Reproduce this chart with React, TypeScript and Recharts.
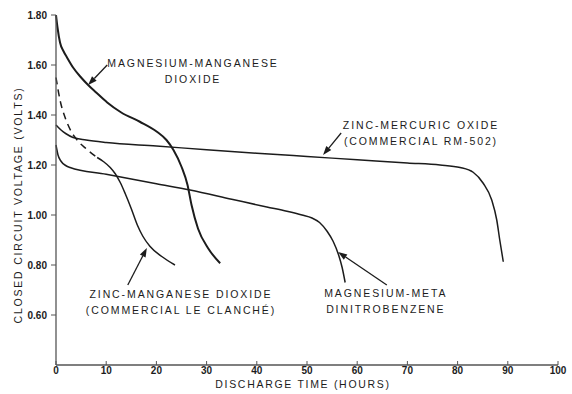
import React from 'react'
import { LineChart, Line, XAxis, YAxis, ReferenceLine, ReferenceDot } from 'recharts'

// discharge curves, hours vs closed circuit volts
const mgMno2 = [
  { h: 0, v: 1.8 }, { h: 0.3, v: 1.75 }, { h: 0.8, v: 1.69 }, { h: 1.5, v: 1.655 },
  { h: 2.2, v: 1.63 }, { h: 3.4, v: 1.59 }, { h: 5, v: 1.55 }, { h: 6.4, v: 1.52 },
  { h: 8, v: 1.49 }, { h: 10.2, v: 1.45 }, { h: 13, v: 1.41 }, { h: 16.7, v: 1.373 },
  { h: 20.1, v: 1.333 }, { h: 22, v: 1.3 }, { h: 23.4, v: 1.26 }, { h: 25, v: 1.193 },
  { h: 26.2, v: 1.12 }, { h: 27, v: 1.04 }, { h: 28.3, v: 0.945 }, { h: 30.3, v: 0.867 },
  { h: 32.7, v: 0.807 },
]

const znHgo = [
  { h: 0, v: 1.36 }, { h: 1, v: 1.34 }, { h: 2, v: 1.325 }, { h: 3.4, v: 1.31 },
  { h: 6, v: 1.3 }, { h: 10, v: 1.29 }, { h: 20, v: 1.276 }, { h: 30, v: 1.261 },
  { h: 40, v: 1.247 }, { h: 50, v: 1.234 }, { h: 60, v: 1.221 }, { h: 70, v: 1.208 },
  { h: 76.5, v: 1.2 }, { h: 80.5, v: 1.19 }, { h: 83.1, v: 1.171 }, { h: 85.1, v: 1.127 },
  { h: 86.8, v: 1.06 }, { h: 87.8, v: 0.98 }, { h: 88.4, v: 0.9 }, { h: 89.1, v: 0.813 },
]

const mgDinitro = [
  { h: 0, v: 1.28 }, { h: 0.4, v: 1.24 }, { h: 1, v: 1.215 }, { h: 2, v: 1.197 },
  { h: 2.8, v: 1.19 }, { h: 10, v: 1.163 }, { h: 20, v: 1.125 }, { h: 26.7, v: 1.1 },
  { h: 35, v: 1.063 }, { h: 42, v: 1.032 }, { h: 46, v: 1.015 }, { h: 49, v: 1.0 },
  { h: 51, v: 0.988 }, { h: 52.5, v: 0.97 }, { h: 54, v: 0.935 }, { h: 55.2, v: 0.895 },
  { h: 56.3, v: 0.84 }, { h: 57, v: 0.79 }, { h: 57.6, v: 0.73 },
]

// leclanche cell: dashed start, solid after ~8 h
const znMno2Early = [
  { h: 0, v: 1.55 }, { h: 0.8, v: 1.46 }, { h: 2, v: 1.38 }, { h: 3, v: 1.335 },
  { h: 4.2, v: 1.3 }, { h: 6, v: 1.265 }, { h: 8.2, v: 1.23 },
]

const znMno2 = [
  { h: 8.2, v: 1.23 }, { h: 9.5, v: 1.213 }, { h: 10.8, v: 1.19 }, { h: 11.8, v: 1.165 },
  { h: 12.8, v: 1.13 }, { h: 13.8, v: 1.085 }, { h: 15, v: 1.025 }, { h: 16.2, v: 0.96 },
  { h: 17.3, v: 0.915 }, { h: 18.7, v: 0.875 }, { h: 21, v: 0.835 }, { h: 23.7, v: 0.8 },
]

const xTicks = [0, 10, 20, 30, 40, 50, 60, 70, 80, 90, 100]
const yTicks = [0.6, 0.8, 1.0, 1.2, 1.4, 1.6, 1.8]

// callouts: text anchor (h, v) and arrow tail -> head
const callouts = [
  { lines: ['MAGNESIUM-MANGANESE', 'DIOXIDE'], h: 27.3, v: 1.608, from: [10.2, 1.6], to: [6.4, 1.52] },
  { lines: ['ZINC-MERCURIC OXIDE', '(COMMERCIAL RM-502)'], h: 72.7, v: 1.36, from: [56.8, 1.328], to: [53.2, 1.24] },
  { lines: ['MAGNESIUM-META', 'DINITROBENZENE'], h: 65.7, v: 0.688, from: [65.9, 0.72], to: [56.2, 0.852] },
  { lines: ['ZINC-MANGANESE DIOXIDE', '(COMMERCIAL LE CLANCHÉ)'], h: 24.9, v: 0.684, from: [14.3, 0.72], to: [18.1, 0.868] },
]

const font = '"Liberation Sans", Arial, sans-serif'
const ink = '#1c1c1c'
const axisInk = '#555'

function Arrow(p: any) {
  const { x1, y1, x2, y2 } = p
  const a = Math.atan2(y2 - y1, x2 - x1)
  const len = 9
  const w = 3.2
  const bx = x2 - len * Math.cos(a)
  const by = y2 - len * Math.sin(a)
  const px = -Math.sin(a) * w
  const py = Math.cos(a) * w
  return (
    <g>
      <line x1={x1} y1={y1} x2={bx} y2={by} stroke={ink} strokeWidth={1.3} />
      <polygon points={`${x2},${y2} ${bx + px},${by + py} ${bx - px},${by - py}`} fill={ink} />
    </g>
  )
}

function calloutText(lines: string[]) {
  return (p: any) => (
    <text x={p.cx} y={p.cy} textAnchor="middle" fontFamily={font} fontSize={10.5} letterSpacing={1.9} fill={ink}>
      {lines.map((s, i) => (
        <tspan key={i} x={p.cx} dy={i === 0 ? 4 : 16}>{s}</tspan>
      ))}
    </text>
  )
}

export default function App() {
  return (
    <div style={{ position: 'absolute', left: 0, top: 0, width: 572, height: 394, background: '#fff' }}>
      <LineChart width={572} height={394} margin={{ top: 15, right: 14, bottom: 0, left: 0 }}>
        <XAxis
          xAxisId="b"
          type="number"
          dataKey="h"
          domain={[0, 100]}
          ticks={xTicks}
          height={29}
          tickSize={-4}
          tickMargin={6}
          axisLine={{ stroke: axisInk, strokeWidth: 1.3 }}
          tickLine={{ stroke: axisInk }}
          tick={{ fontFamily: font, fontSize: 10, fontWeight: 'bold', fill: ink }}
          label={{
            content: (p: any) => (
              <text x={p.viewBox.x + p.viewBox.width / 2 - 4} y={p.viewBox.y + 23} textAnchor="middle"
                fontFamily={font} fontSize={10.5} letterSpacing={1.7} fill={ink}>
                DISCHARGE TIME (HOURS)
              </text>
            ),
          }}
        />
        <XAxis
          xAxisId="t"
          orientation="top"
          type="number"
          dataKey="h"
          domain={[0, 100]}
          ticks={xTicks}
          height={0}
          tickSize={-4}
          tick={false}
          axisLine={{ stroke: axisInk, strokeWidth: 1.3 }}
          tickLine={{ stroke: axisInk }}
        />
        <YAxis
          yAxisId="l"
          type="number"
          domain={[0.4, 1.8]}
          ticks={yTicks}
          width={56}
          tickSize={5}
          tickMargin={4}
          tickFormatter={(v: number) => v.toFixed(2)}
          axisLine={{ stroke: axisInk, strokeWidth: 1.3 }}
          tickLine={{ stroke: axisInk }}
          tick={{ fontFamily: font, fontSize: 10, fontWeight: 'bold', fill: ink }}
          label={{
            content: (p: any) => {
              const cx = p.viewBox.x + 18
              const cy = p.viewBox.y + p.viewBox.height / 2 + 15
              return (
                <text x={cx} y={cy} transform={`rotate(-90 ${cx} ${cy})`} textAnchor="middle" dominantBaseline="central"
                  fontFamily={font} fontSize={10.5} letterSpacing={1.8} fill={ink}>
                  CLOSED CIRCUIT VOLTAGE (VOLTS)
                </text>
              )
            },
          }}
        />
        <YAxis
          yAxisId="r"
          orientation="right"
          type="number"
          domain={[0.4, 1.8]}
          ticks={yTicks}
          width={0}
          tickSize={-5}
          tick={false}
          axisLine={{ stroke: axisInk, strokeWidth: 1.3 }}
          tickLine={{ stroke: axisInk }}
        />

        <Line xAxisId="b" yAxisId="l" data={znHgo} dataKey="v" type="monotone" stroke={ink} strokeWidth={1.5} dot={false} isAnimationActive={false} />
        <Line xAxisId="b" yAxisId="l" data={mgDinitro} dataKey="v" type="monotone" stroke={ink} strokeWidth={1.5} dot={false} isAnimationActive={false} />
        <Line xAxisId="b" yAxisId="l" data={znMno2Early} dataKey="v" type="monotone" stroke={ink} strokeWidth={1.5} strokeDasharray="7 5" dot={false} isAnimationActive={false} />
        <Line xAxisId="b" yAxisId="l" data={znMno2} dataKey="v" type="monotone" stroke={ink} strokeWidth={1.5} dot={false} isAnimationActive={false} />
        <Line xAxisId="b" yAxisId="l" data={mgMno2} dataKey="v" type="monotone" stroke={ink} strokeWidth={2} dot={false} isAnimationActive={false} />

        {callouts.map((c, i) => (
          <ReferenceLine
            key={'a' + i}
            xAxisId="b"
            yAxisId="l"
            segment={[{ x: c.from[0], y: c.from[1] }, { x: c.to[0], y: c.to[1] }]}
            ifOverflow="visible"
            shape={Arrow}
          />
        ))}
        {callouts.map((c, i) => (
          <ReferenceDot
            key={'t' + i}
            xAxisId="b"
            yAxisId="l"
            x={c.h}
            y={c.v}
            r={0}
            ifOverflow="visible"
            shape={calloutText(c.lines)}
          />
        ))}
      </LineChart>
    </div>
  )
}
